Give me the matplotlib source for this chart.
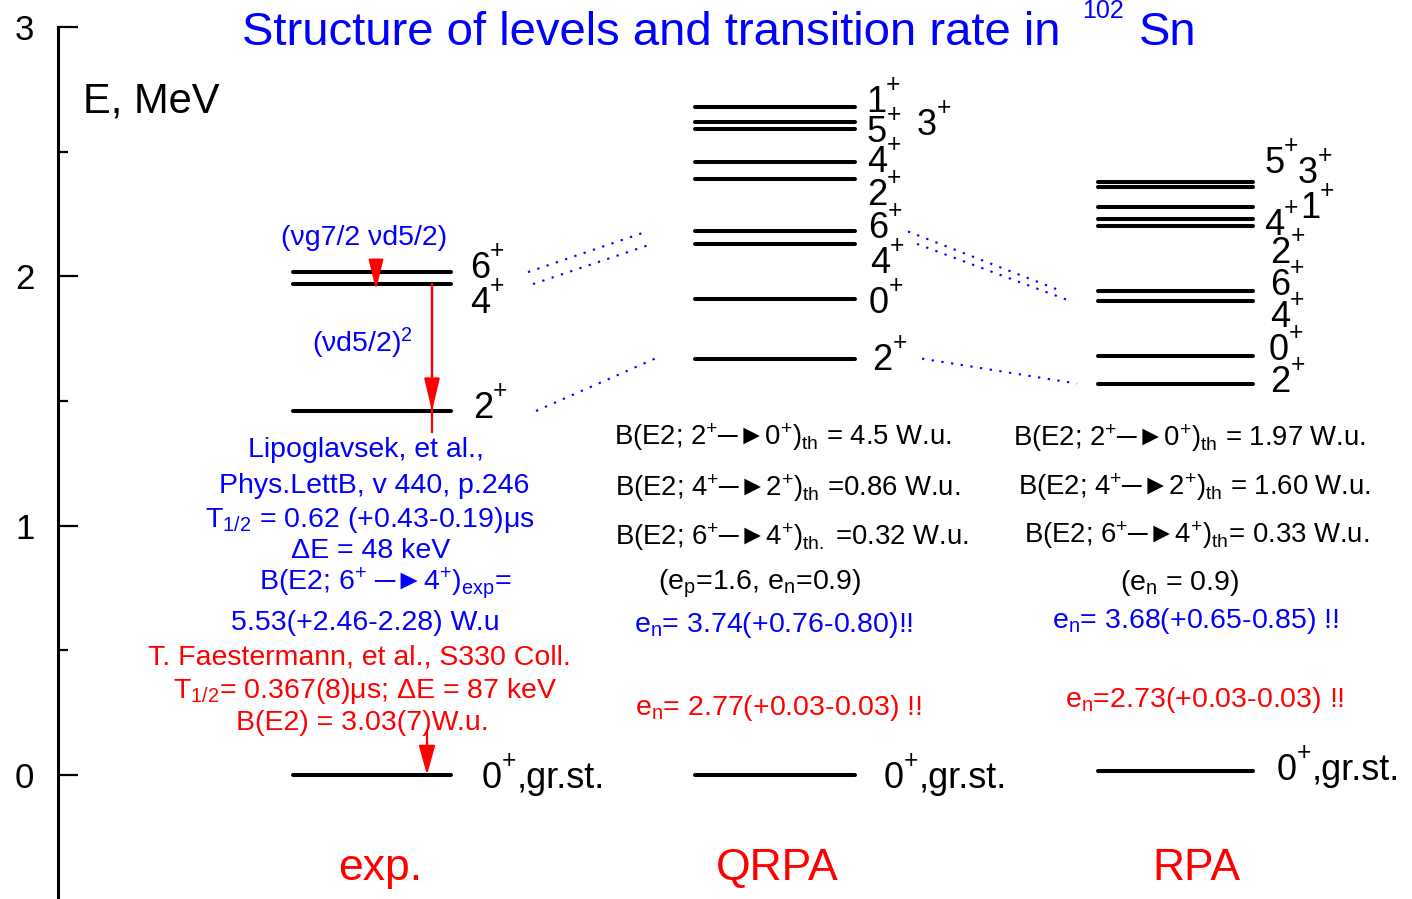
import matplotlib
matplotlib.use("Agg")
import matplotlib.pyplot as plt
from matplotlib.ticker import MultipleLocator

plt.rcParams['font.family'] = ['Liberation Sans', 'DejaVu Sans']
plt.rcParams['mathtext.fontset'] = 'custom'
plt.rcParams['mathtext.rm'] = 'Liberation Sans'
plt.rcParams['mathtext.it'] = 'Liberation Sans:italic'
plt.rcParams['mathtext.bf'] = 'Liberation Sans:bold'

BLUE = '#0000ff'
RED = '#ff0000'

# ---------------- level energies (MeV) ----------------
exp_levels = [0.0, 1.46, 1.969, 2.017]                 # 0+, 2+, 4+, 6+
qrpa_levels = [0.0, 1.67, 1.91, 2.13, 2.18, 2.39, 2.46, 2.59, 2.62, 2.68]
rpa_levels = [0.017, 1.57, 1.68, 1.90, 1.94, 2.20, 2.23, 2.28, 2.36, 2.38]

# level index used for the connectors between schemes: (2+, 4+, 6+)
exp_idx = {'2': 1, '4': 2, '6': 3}
qrpa_idx = {'2': 1, '4': 3, '6': 4}
rpa_idx = {'2': 1, '4': 3, '6': 4}

column_names = ['exp.', 'QRPA', 'RPA']

# ---------------- page geometry ----------------
W, H = 1412, 899
Y0_PX, PX_PER_MEV = 775.0, 249.33


def ey(py):
    """vertical page position -> energy coordinate"""
    return (Y0_PX - py) / PX_PER_MEV


fig = plt.figure(figsize=(W / 100, H / 100), dpi=100)
ax = fig.add_axes([0, 0, 1, 1])
ax.set_xlim(0, W)
ax.set_ylim(ey(H), ey(0))
renderer = fig.canvas.get_renderer()

for s in ('top', 'right', 'bottom'):
    ax.spines[s].set_visible(False)
ax.spines['left'].set_position(('data', 58))
ax.spines['left'].set_bounds(-0.5, 3)
ax.spines['left'].set_linewidth(2.2)
ax.set_xticks([])
ax.yaxis.set_major_locator(MultipleLocator(1))
ax.yaxis.set_minor_locator(MultipleLocator(0.5))
ax.set_yticks([0, 1, 2, 3])
ax.tick_params(axis='y', which='major', direction='in', length=14.5,
               width=1.6, labelsize=25, pad=17)
ax.tick_params(axis='y', which='minor', direction='in', length=7.5, width=1.6)
ax.patch.set_alpha(0)

# ---------------- level lines ----------------
columns = [
    (exp_levels, 293, 451),
    (qrpa_levels, 695, 855),
    (rpa_levels, 1098, 1253),
]
for levels, x0, x1 in columns:
    for e in levels:
        ax.plot([x0, x1], [e, e], color='black', lw=2.9, solid_capstyle='round')

# ---------------- dotted connectors ----------------
dot_kw = dict(color=BLUE, lw=1.5, linestyle=(0, (1.1, 3.6)))
for j in ('6', '4', '2'):
    x_a = {'6': 528, '4': 533, '2': 536}[j]
    x_b = {'6': 647, '4': 652, '2': 655}[j]
    ax.plot([x_a, x_b], [exp_levels[exp_idx[j]], qrpa_levels[qrpa_idx[j]]], **dot_kw)
for j in ('6', '4', '2'):
    x_a = {'6': 908, '4': 917, '2': 922}[j]
    x_b = {'6': 1062, '4': 1071, '2': 1077}[j]
    ax.plot([x_a, x_b], [qrpa_levels[qrpa_idx[j]], rpa_levels[rpa_idx[j]]], **dot_kw)

# ---------------- transitions (red arrows) ----------------
def head(x, y_from, y_to, hl=2.0, hw=0.48):
    ax.annotate('', xy=(x, y_to), xytext=(x, y_from),
                arrowprops=dict(arrowstyle=f'-|>,head_length={hl},head_width={hw}',
                                color=RED, lw=1.6, shrinkA=0, shrinkB=0,
                                mutation_scale=10))

# 4+ -> 2+ (line runs a little past the 2+ level)
ax.plot([432, 432], [exp_levels[2], ey(432)], color=RED, lw=1.6)
head(432, exp_levels[2], exp_levels[1])
# 6+ -> 4+ (only the head is visible)
head(376, ey(264), exp_levels[2] - 0.024, hl=1.85, hw=0.45)
# 2+ -> 0+
head(427, ey(732), exp_levels[0], hl=1.8, hw=0.5)


# ---------------- level labels ----------------
def spin_label(x, yb, spin, tail='', size=26):
    """spin digit with a small raised parity sign, optionally followed by text"""
    t = ax.text(x, ey(yb), spin, fontsize=size, color='black', ha='left', va='baseline')
    w = t.get_window_extent(renderer).width
    xp = x + w
    p = ax.text(xp, ey(yb - 20), '+', fontsize=size * 0.68, color='black',
                ha='left', va='baseline')
    if tail:
        wp = p.get_window_extent(renderer).width
        ax.text(xp + wp, ey(yb), tail, fontsize=size, color='black',
                ha='left', va='baseline')


level_labels = [
    # exp
    ("6", 470, 278, ''), ("4", 470, 313, ''), ("2", 473, 418, ''),
    ("0", 482, 788, ',gr.st.'),
    # QRPA
    ("1", 866, 112, ''), ("5", 867, 142, ''), ("3", 917, 135, ''),
    ("4", 867, 172, ''), ("2", 867, 205, ''), ("6", 868, 238, ''),
    ("4", 870, 273, ''), ("0", 869, 313, ''), ("2", 872, 370, ''),
    ("0", 884, 788, ',gr.st.'),
    # RPA
    ("5", 1264, 173, ''), ("3", 1298, 183, ''), ("1", 1300, 218, ''),
    ("4", 1264, 235, ''), ("2", 1270, 263, ''), ("6", 1270, 295, ''),
    ("4", 1270, 327, ''), ("0", 1269, 360, ''), ("2", 1270, 392, ''),
    ("0", 1277, 780, ',gr.st.'),
]
for spin, x, yb, tail in level_labels:
    spin_label(x, yb, spin, tail)

# ---------------- annotation blocks ----------------
blocks = [
    # configurations
    ("(νg7/2 νd5/2)", 364, 245, BLUE),
    (r"(νd5/2)$^{2}$", 362, 352, BLUE),
    # experiment
    ("Lipoglavsek, et al.,", 366, 457, BLUE),
    ("Phys.LettB, v 440, p.246", 374, 493, BLUE),
    (r"T$_{\rm 1/2}$ = 0.62 (+0.43-0.19)μs", 370, 527, BLUE),
    ("ΔE = 48 keV", 371, 558, BLUE),
    (r"B(E2; 6$^{+}$ ─►4$^{+}$)$_{\rm exp}$=", 385, 590, BLUE),
    ("5.53(+2.46-2.28) W.u", 365, 630, BLUE),
    ("T. Faestermann, et al., S330 Coll.", 359, 665, RED),
    (r"T$_{\rm 1/2}$= 0.367(8)μs; ΔE = 87 keV", 365, 698, RED),
    ("B(E2) = 3.03(7)W.u.", 362, 730, RED),
    # QRPA
    (r"B(E2; 2$^{+}$─►0$^{+}$)$_{\rm th}$ = 4.5 W.u.", 783, 445, 'black'),
    (r"B(E2; 4$^{+}$─►2$^{+}$)$_{\rm th}$ =0.86 W.u.", 788, 496, 'black'),
    (r"B(E2; 6$^{+}$─►4$^{+}$)$_{\rm th.}$ =0.32 W.u.", 792, 545, 'black'),
    (r"(e$_{\rm p}$=1.6, e$_{\rm n}$=0.9)", 760, 590, 'black'),
    (r"e$_{\rm n}$= 3.74(+0.76-0.80)!!", 774, 632, BLUE),
    (r"e$_{\rm n}$= 2.77(+0.03-0.03) !!", 779, 715, RED),
    # RPA
    (r"B(E2; 2$^{+}$─►0$^{+}$)$_{\rm th}$ = 1.97 W.u.", 1189, 446, 'black'),
    (r"B(E2; 4$^{+}$─►2$^{+}$)$_{\rm th}$ = 1.60 W.u.", 1194, 495, 'black'),
    (r"B(E2; 6$^{+}$─►4$^{+}$)$_{\rm th}$= 0.33 W.u.", 1197, 543, 'black'),
    (r"(e$_{\rm n}$ = 0.9)", 1180, 590, 'black'),
    (r"e$_{\rm n}$= 3.68(+0.65-0.85) !!", 1196, 628, BLUE),
    (r"e$_{\rm n}$=2.73(+0.03-0.03) !!", 1205, 707, RED),
]
for s, x, yb, c in blocks:
    size = 19.8 if s.startswith('B(E2; ') and c == 'black' else 20.5
    ax.text(x, ey(yb), s, fontsize=size, color=c, ha='center', va='baseline')

# ---------------- column names, axis label, title ----------------
for name, x in zip(column_names, (380, 777, 1196)):
    ax.text(x, ey(880), name, fontsize=32, color=RED, ha='center', va='baseline')

ax.text(83, ey(113), "E, MeV", fontsize=30, color='black', ha='left', va='baseline')

ax.text(242, ey(45), "Structure of levels and transition rate in", fontsize=34,
        color=BLUE, ha='left', va='baseline')
ax.text(1082, ey(18), "102", fontsize=18, color=BLUE, ha='left', va='baseline')
ax.text(1139, ey(45), "Sn", fontsize=34, color=BLUE, ha='left', va='baseline')

fig.savefig("out.png", dpi=100)
